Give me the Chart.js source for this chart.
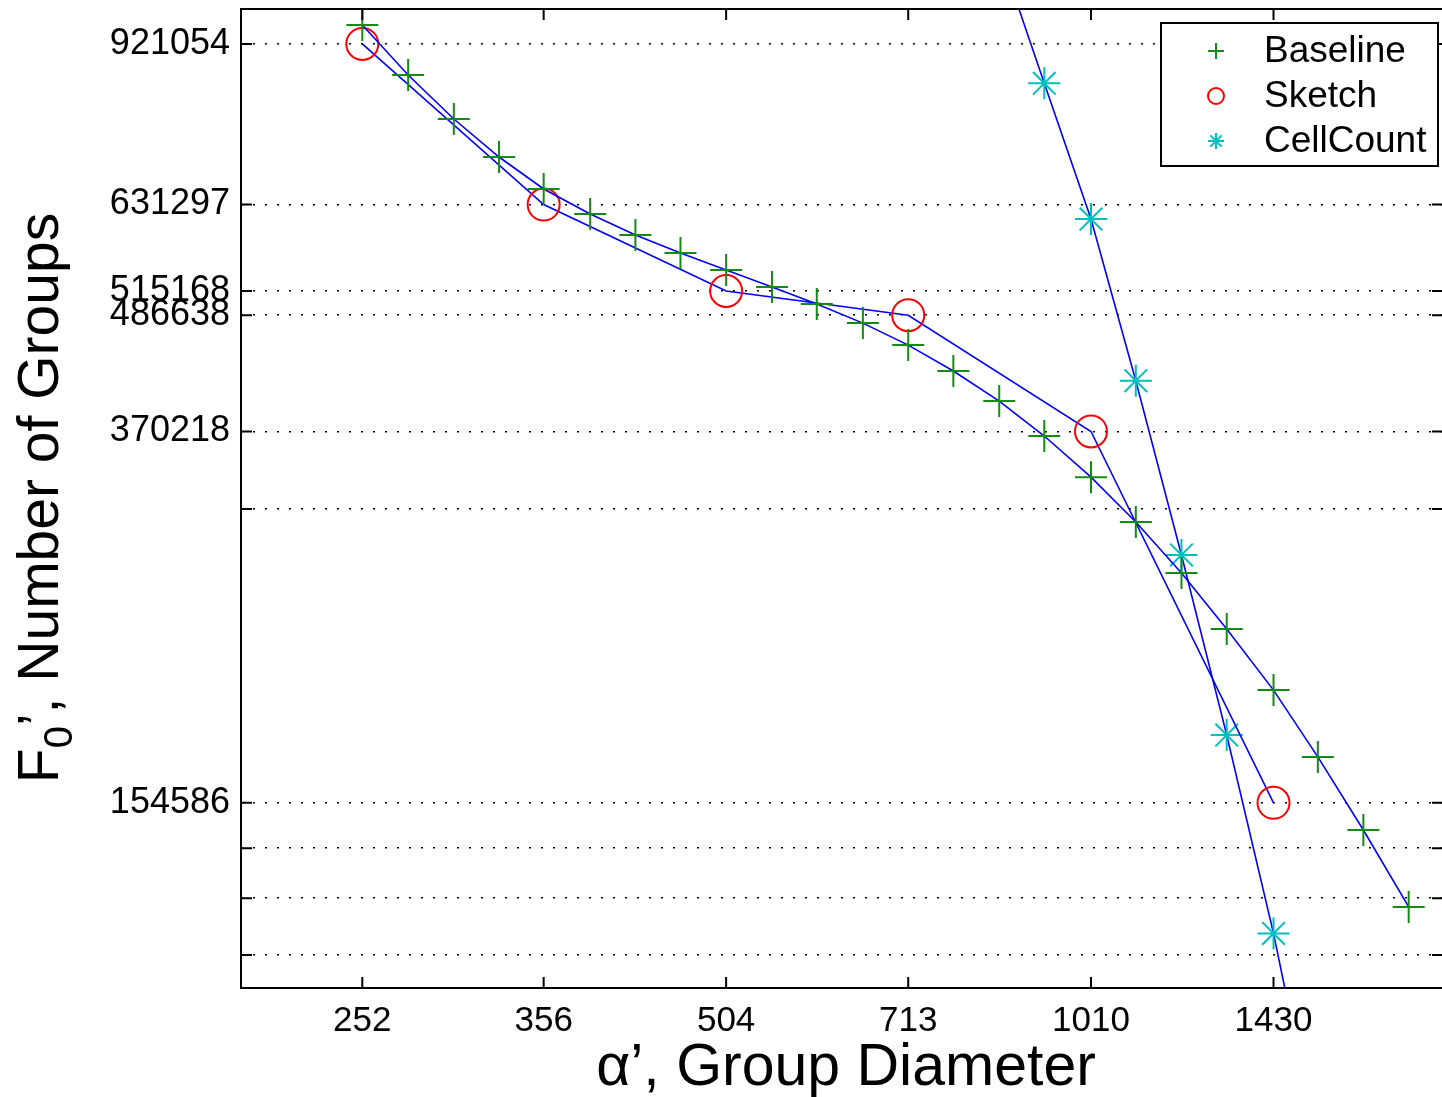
<!DOCTYPE html>
<html>
<head>
<meta charset="utf-8">
<script src="https://cdn.jsdelivr.net/npm/chart.js@4.4.0/dist/chart.umd.min.js"></script>
<style>
  html, body { margin: 0; padding: 0; background: #fff; overflow: hidden; }
  #wrap { width: 1444px; height: 1097px; }
</style>
</head>
<body>
<div id="wrap"><canvas id="chart" width="1444" height="1097"></canvas></div>
<script>
// values
const baselineX = [252, 275, 300, 327, 356, 389, 424, 462, 504, 550, 599, 654, 713, 777, 848, 924, 1010, 1100, 1200, 1308, 1430, 1556, 1697, 1850];
const baselineY = [963100, 856100, 772000, 706000, 654900, 617400, 587700, 563300, 541300, 520000, 499600, 477700, 453600, 426800, 397700, 366300, 332500, 299200, 265400, 232600, 201500, 172200, 145000, 121000];
const sketchX = [252, 356, 504, 713, 1010, 1430];
const sketchY = [921054, 631297, 515168, 486638, 370218, 154586];
const cellCountX = [848, 924, 1010, 1100, 1200, 1308, 1430, 1556];
const cellCountY = [1145700, 839600, 610200, 417200, 276900, 181300, 113700, 68650];

const xTicks = [252, 356, 504, 713, 1010, 1430];
const yTicks = [921054, 631297, 515168, 486638, 370218, 154586];
const yGridOnly = [308500, 138900, 123500, 108100];

const seriesNames = ["Baseline", "Sketch", "CellCount"];
const markerColors = ["#148c14", "#ff0000", "#00bfbf"];
const markerStyles = ["cross", "circle", "star"];

const FONT = "'Liberation Sans', Arial, Helvetica, sans-serif";

function toPoints(xs, ys) {
    return xs.map(function (x, i) { return { x: x, y: ys[i] }; });
}

function makeSet(i, xs, ys) {
    return {
        label: seriesNames[i],
        data: toPoints(xs, ys),
        showLine: true,
        borderColor: "#0000ff",
        borderWidth: 1.6,
        pointStyle: markerStyles[i],
        pointRadius: 16,
        pointBorderColor: markerColors[i],
        pointBackgroundColor: "rgba(0,0,0,0)",
        pointBorderWidth: 2
    };
}

function noPadding(scale) {
    scale.paddingTop = 0;
    scale.paddingBottom = 0;
    scale.paddingLeft = 0;
    scale.paddingRight = 0;
}

function drawMarker(ctx, style, x, y, r) {
    ctx.beginPath();
    if (style === "circle") {
        ctx.arc(x, y, r, 0, Math.PI * 2);
    } else {
        ctx.moveTo(x - r, y); ctx.lineTo(x + r, y);
        ctx.moveTo(x, y - r); ctx.lineTo(x, y + r);
        if (style === "star") {
            var d = r * Math.SQRT1_2;
            ctx.moveTo(x - d, y - d); ctx.lineTo(x + d, y + d);
            ctx.moveTo(x - d, y + d); ctx.lineTo(x + d, y - d);
        }
    }
    ctx.stroke();
}

const framePlugin = {
    id: "frame",
    afterDraw: function (chart) {
        const ctx = chart.ctx;
        const a = chart.chartArea;
        const sx = chart.scales.x, sy = chart.scales.y;
        ctx.save();

        // box and inward ticks
        ctx.strokeStyle = "#000";
        ctx.lineWidth = 2;
        ctx.strokeRect(a.left, a.top, a.right - a.left, a.bottom - a.top);
        ctx.beginPath();
        xTicks.forEach(function (v) {
            const p = sx.getPixelForValue(v);
            ctx.moveTo(p, a.bottom); ctx.lineTo(p, a.bottom - 11);
            ctx.moveTo(p, a.top); ctx.lineTo(p, a.top + 11);
        });
        yTicks.concat(yGridOnly).forEach(function (v) {
            const p = sy.getPixelForValue(v);
            ctx.moveTo(a.left, p); ctx.lineTo(a.left + 11, p);
            ctx.moveTo(a.right, p); ctx.lineTo(a.right - 11, p);
        });
        ctx.stroke();

        // axis titles
        ctx.fillStyle = "#000";
        ctx.textBaseline = "alphabetic";
        ctx.font = "59px " + FONT;
        ctx.textAlign = "center";
        ctx.fillText("\u03b1\u2019, Group Diameter", 846, 1085);

        ctx.textAlign = "left";
        const big = "57px " + FONT, small = "40px " + FONT;
        ctx.font = big;
        const wF = ctx.measureText("F").width;
        const rest = "\u2019, Number of Groups";
        const wR = ctx.measureText(rest).width;
        ctx.font = small;
        const w0 = ctx.measureText("0").width;
        const total = wF + w0 + wR;
        ctx.translate(58, 498);
        ctx.rotate(-Math.PI / 2);
        let px = -total / 2;
        ctx.font = big;
        ctx.fillText("F", px, 0);
        px += wF;
        ctx.font = small;
        ctx.fillText("0", px, 14);
        px += w0;
        ctx.font = big;
        ctx.fillText(rest, px, 0);
        ctx.restore();

        // legend box
        ctx.save();
        const lx = 1161, ly = 23, lw = 277, lh = 143;
        ctx.fillStyle = "#fff";
        ctx.fillRect(lx, ly, lw, lh);
        ctx.strokeStyle = "#000";
        ctx.lineWidth = 2;
        ctx.strokeRect(lx, ly, lw, lh);
        ctx.font = "37px " + FONT;
        ctx.textAlign = "left";
        ctx.textBaseline = "middle";
        chart.data.datasets.forEach(function (ds, i) {
            const yy = ly + 28 + i * 45;
            ctx.strokeStyle = markerColors[i];
            ctx.lineWidth = 2;
            drawMarker(ctx, markerStyles[i], 1216, yy, 8);
            ctx.fillStyle = "#000";
            ctx.fillText(ds.label, 1264, yy + 1);
        });
        ctx.restore();
    }
};

const config = {
    type: "scatter",
    data: {
        datasets: [
            makeSet(0, baselineX, baselineY),
            makeSet(1, sketchX, sketchY),
            makeSet(2, cellCountX, cellCountY)
        ]
    },
    options: {
        responsive: false,
        animation: false,
        events: [],
        layout: { autoPadding: false, padding: { top: 9, right: 1, left: 0, bottom: 0 } },
        plugins: {
            legend: { display: false },
            tooltip: { enabled: false }
        },
        scales: {
            x: {
                type: "logarithmic",
                min: 200,
                max: 1975,
                afterBuildTicks: function (scale) {
                    scale.ticks = xTicks.map(function (v) { return { value: v }; });
                },
                afterFit: function (scale) { scale.height = 109; noPadding(scale); },
                grid: { display: false },
                border: { display: false },
                ticks: {
                    autoSkip: false,
                    maxRotation: 0,
                    minRotation: 0,
                    padding: 4,
                    color: "#000",
                    font: { family: FONT, size: 35 },
                    callback: function (v) { return String(v); }
                }
            },
            y: {
                type: "logarithmic",
                min: 100000,
                max: 1000000,
                afterBuildTicks: function (scale) {
                    scale.ticks = yTicks.concat(yGridOnly).map(function (v) { return { value: v }; });
                },
                afterFit: function (scale) { scale.width = 241; noPadding(scale); },
                grid: {
                    display: true,
                    drawTicks: false,
                    color: "#000",
                    lineWidth: 1.6
                },
                border: { display: false, dash: [2, 10] },
                ticks: {
                    autoSkip: false,
                    padding: 11,
                    color: "#000",
                    font: { family: FONT, size: 36 },
                    callback: function (v) {
                        return yTicks.indexOf(v) >= 0 ? String(v) : "";
                    }
                }
            }
        }
    },
    plugins: [framePlugin]
};

const myChart = new Chart(document.getElementById("chart"), config);
</script>
</body>
</html>
